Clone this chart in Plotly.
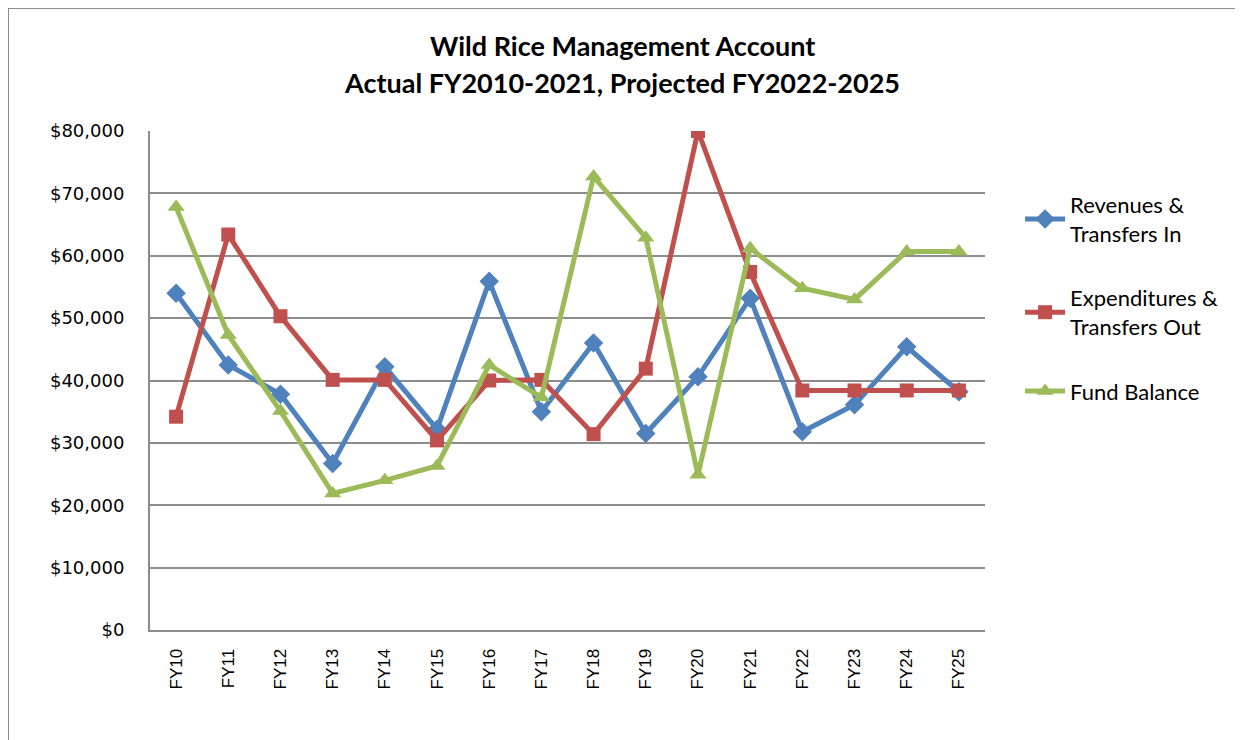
import plotly.graph_objects as go

# fiscal years on the category axis
years = ["FY10", "FY11", "FY12", "FY13", "FY14", "FY15", "FY16", "FY17",
         "FY18", "FY19", "FY20", "FY21", "FY22", "FY23", "FY24", "FY25"]

revenues = [54000, 42500, 37800, 26700, 42200, 32200, 55900, 35000,
            46000, 31500, 40600, 53200, 31800, 36100, 45400, 38200]
expenditures = [34200, 63400, 50300, 40100, 40100, 30400, 40000, 40100,
                31400, 41900, 80000, 57400, 38400, 38400, 38400, 38400]
fund_balance = [67800, 47300, 35100, 21900, 24000, 26300, 42500, 37300,
                72700, 62900, 24900, 61200, 54800, 53000, 60700, 60700]

y_ticks = [0, 10000, 20000, 30000, 40000, 50000, 60000, 70000, 80000]

title_lines = ["Wild Rice Management Account",
               "Actual FY2010-2021, Projected FY2022-2025"]

series = [
    ("Revenues &<br>Transfers In", revenues, "#4F81BD", "diamond", 15),
    ("Expenditures &<br>Transfers Out", expenditures, "#C0504D", "square", 14),
    ("Fund Balance", fund_balance, "#9BBB59", "triangle-up", 15),
]

fig = go.Figure()
for name, values, color, symbol, size in series:
    fig.add_trace(go.Scatter(
        x=years, y=values, name=name, legendgroup=name,
        mode="lines+markers",
        line=dict(color=color, width=5),
        marker=dict(symbol=symbol, size=size, color=color),
    ))

# outer chart border
fig.add_shape(type="rect", xref="paper", yref="paper",
              x0=-0.170, x1=1.6, y0=-0.4, y1=1.2465,
              line=dict(color="#8c8c8c", width=2), layer="below")

# two title lines, placed separately for Excel-like spacing
for text, ypos in zip(title_lines, [1.1723, 1.0962]):
    fig.add_annotation(
        text="<b>" + text + "</b>", xref="paper", yref="paper",
        x=0.5653, y=ypos, xanchor="center", yanchor="middle", showarrow=False,
        font=dict(family="Lato, Open Sans, sans-serif", size=27, color="black"),
    )

fig.update_layout(
    width=1243, height=740,
    margin=dict(l=142, r=266, t=123, b=118),
    plot_bgcolor="white", paper_bgcolor="white",
    xaxis=dict(
        type="category", range=[-0.5, 15.5],
        tickangle=-90, showgrid=False, zeroline=False,
        showline=True, linecolor="#8c8c8c", linewidth=2,
        ticks="", ticklabelstandoff=10,
        tickfont=dict(family="Liberation Sans, Arial, sans-serif", size=17, color="black"),
    ),
    yaxis=dict(
        range=[0, 80000], tickvals=y_ticks,
        ticktext=["${:,}".format(v) for v in y_ticks],
        showgrid=True, gridcolor="#8c8c8c", gridwidth=1.5,
        zeroline=False, showline=True, linecolor="#8c8c8c", linewidth=2,
        ticks="", ticklabelstandoff=20,
        tickfont=dict(family="DejaVu Sans, Verdana, sans-serif", size=18, color="black"),
    ),
    legend=dict(
        x=1.042, y=0.894, xanchor="left", yanchor="top",
        font=dict(family="Lato, Open Sans, sans-serif", size=22, color="black"),
        tracegroupgap=33, itemwidth=40,
    ),
    showlegend=True,
)

fig.write_html("out.html")
